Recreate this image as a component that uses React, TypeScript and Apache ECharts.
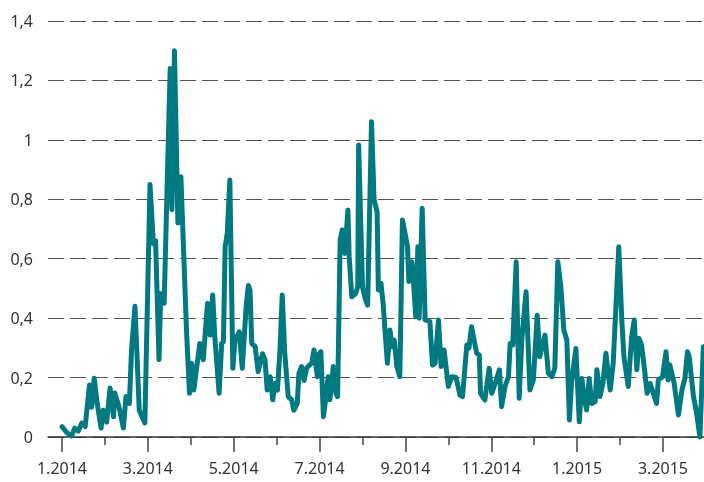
import React, { useEffect, useRef } from "react";
import * as echarts from "echarts";

// x positions in months since January 2014 (0 = 1.2014)
const monthPos = [
  0.0, 0.11, 0.22, 0.3, 0.38, 0.46, 0.54, 0.64, 0.69, 0.75, 0.82, 0.91, 0.96, 1.04, 1.12, 1.2, 1.23, 1.33, 1.43, 1.49,
  1.57, 1.62, 1.7, 1.8, 1.86, 1.93, 2.05, 2.13, 2.18, 2.26, 2.3, 2.38, 2.45, 2.52, 2.56, 2.62, 2.7, 2.77, 2.9, 2.97,
  3.02, 3.07, 3.17, 3.21, 3.29, 3.39, 3.45, 3.51, 3.56, 3.66, 3.72, 3.76, 3.8, 3.85, 3.91, 3.98, 4.03, 4.13, 4.2, 4.29,
  4.34, 4.38, 4.42, 4.5, 4.57, 4.67, 4.73, 4.78, 4.85, 4.91, 4.96, 5.02, 5.08, 5.13, 5.19, 5.27, 5.35, 5.4, 5.48, 5.52,
  5.58, 5.64, 5.7, 5.82, 5.87, 5.95, 5.99, 6.03, 6.09, 6.14, 6.2, 6.24, 6.32, 6.38, 6.42, 6.48, 6.53, 6.59, 6.66, 6.69,
  6.75, 6.84, 6.89, 6.91, 7.0, 7.06, 7.12, 7.21, 7.27, 7.34, 7.37, 7.43, 7.48, 7.58, 7.64, 7.69, 7.74, 7.8, 7.87, 7.93,
  7.99, 8.05, 8.08, 8.15, 8.18, 8.24, 8.29, 8.32, 8.39, 8.46, 8.57, 8.63, 8.69, 8.77, 8.83, 8.9, 9.0, 9.08, 9.18, 9.27,
  9.33, 9.43, 9.48, 9.54, 9.6, 9.66, 9.72, 9.75, 9.85, 9.95, 10.01, 10.09, 10.19, 10.24, 10.32, 10.4, 10.44, 10.5, 10.58, 10.65,
  10.71, 10.81, 10.9, 10.98, 11.07, 11.13, 11.25, 11.33, 11.41, 11.48, 11.55, 11.62, 11.69, 11.76, 11.82, 11.87, 11.97, 12.05, 12.11, 12.16,
  12.22, 12.28, 12.34, 12.42, 12.46, 12.53, 12.6, 12.67, 12.77, 12.84, 12.97, 13.04, 13.09, 13.19, 13.27, 13.33, 13.39, 13.44, 13.5, 13.58,
  13.63, 13.7, 13.85, 13.89, 13.99, 14.07, 14.12, 14.16, 14.26, 14.36, 14.44, 14.51, 14.57, 14.61, 14.71, 14.77, 14.86, 14.94,
];

const values = [
  0.035, 0.015, 0.003, 0.03, 0.02, 0.047, 0.035, 0.175, 0.1, 0.198, 0.113, 0.03, 0.09, 0.05, 0.165, 0.068, 0.148, 0.1, 0.03, 0.136,
  0.113, 0.293, 0.44, 0.09, 0.07, 0.047, 0.85, 0.65, 0.66, 0.26, 0.483, 0.45, 0.85, 1.24, 0.765, 1.3, 0.72, 0.876, 0.36, 0.147,
  0.248, 0.158, 0.27, 0.315, 0.26, 0.45, 0.343, 0.478, 0.337, 0.147, 0.315, 0.32, 0.64, 0.686, 0.865, 0.231, 0.326, 0.354, 0.231, 0.44,
  0.51, 0.495, 0.315, 0.304, 0.22, 0.28, 0.26, 0.158, 0.203, 0.125, 0.18, 0.158, 0.3, 0.478, 0.28, 0.136, 0.125, 0.09, 0.113, 0.215,
  0.237, 0.19, 0.232, 0.25, 0.293, 0.203, 0.28, 0.287, 0.068, 0.125, 0.203, 0.125, 0.237, 0.148, 0.136, 0.663, 0.697, 0.618, 0.764, 0.607,
  0.472, 0.483, 0.506, 0.983, 0.506, 0.467, 0.444, 1.061, 0.798, 0.758, 0.495, 0.517, 0.45, 0.248, 0.36, 0.304, 0.326, 0.237, 0.203, 0.73,
  0.686, 0.64, 0.523, 0.59, 0.54, 0.405, 0.64, 0.4, 0.77, 0.394, 0.388, 0.242, 0.248, 0.394, 0.237, 0.293, 0.17, 0.203, 0.2, 0.141,
  0.136, 0.31, 0.3, 0.371, 0.326, 0.282, 0.276, 0.147, 0.125, 0.231, 0.147, 0.18, 0.226, 0.102, 0.17, 0.203, 0.315, 0.31, 0.59, 0.13,
  0.326, 0.489, 0.158, 0.192, 0.41, 0.27, 0.343, 0.214, 0.203, 0.231, 0.59, 0.506, 0.36, 0.326, 0.057, 0.186, 0.298, 0.051, 0.197, 0.136,
  0.091, 0.197, 0.113, 0.119, 0.226, 0.136, 0.18, 0.282, 0.158, 0.248, 0.64, 0.394, 0.27, 0.17, 0.338, 0.394, 0.226, 0.332, 0.31, 0.214,
  0.147, 0.18, 0.113, 0.192, 0.203, 0.287, 0.192, 0.242, 0.18, 0.074, 0.158, 0.197, 0.287, 0.27, 0.136, 0.091, 0.0, 0.304,
];

// labelled (major) ticks and unlabelled (minor) ticks, in months since 1.2014
const majorTicks = [0, 2, 4, 6, 8, 10, 12, 14];
const minorTicks = [1, 3, 5, 7, 9, 11, 13];

const FONT = "'Noto Sans', sans-serif";
const TEXT = "#333333";

function monthLabel(v: number): string {
  const m = Math.round(v);
  return `${(m % 12) + 1}.${2014 + Math.floor(m / 12)}`;
}

export default function App() {
  const ref = useRef<HTMLDivElement>(null);
  useEffect(() => {
    if (!ref.current) return;
    const chart = echarts.init(ref.current, undefined, { renderer: "svg" });
    const xMin = -0.326;
    const xMax = 14.955;
    chart.setOption({
      animation: false,
      grid: { left: 48, right: 0, top: 21, bottom: 45, containLabel: false },
      xAxis: [
        {
          type: "value",
          min: xMin,
          max: xMax,
          position: "bottom",
          axisLine: { show: true, lineStyle: { color: "#333", width: 1.5 } },
          axisTick: { show: true, customValues: majorTicks, length: 15, lineStyle: { color: "#444", width: 1.5 } },
          axisLabel: {
            show: true,
            customValues: majorTicks,
            formatter: (v: number) => monthLabel(v),
            margin: 23,
            color: TEXT,
            fontSize: 16,
            fontFamily: FONT,
          },
          splitLine: { show: false },
        },
        {
          type: "value",
          min: xMin,
          max: xMax,
          position: "bottom",
          axisLine: { show: false },
          axisTick: { show: true, customValues: minorTicks, length: 8, lineStyle: { color: "#444", width: 1.5 } },
          axisLabel: { show: false },
          splitLine: { show: false },
        },
      ],
      yAxis: {
        type: "value",
        min: 0,
        max: 1.4,
        interval: 0.2,
        axisLine: { show: false },
        axisTick: { show: false },
        axisLabel: {
          margin: 15,
          color: TEXT,
          fontSize: 16,
          fontFamily: FONT,
          formatter: (v: number) => String(Math.round(v * 10) / 10).replace(".", ","),
        },
        splitLine: { show: true, lineStyle: { type: [16, 6], color: "#555", width: 1 } },
      },
      series: [
        {
          type: "line",
          xAxisIndex: 0,
          data: monthPos.map((m, i) => [m, values[i]]),
          showSymbol: false,
          symbol: "none",
          lineStyle: { color: "#007a80", width: 5, join: "round", cap: "round" },
          clip: false,
        },
      ],
    });
    return () => chart.dispose();
  }, []);
  return <div ref={ref} style={{ position: "fixed", left: 0, top: 0, width: 704, height: 482 }} />;
}
